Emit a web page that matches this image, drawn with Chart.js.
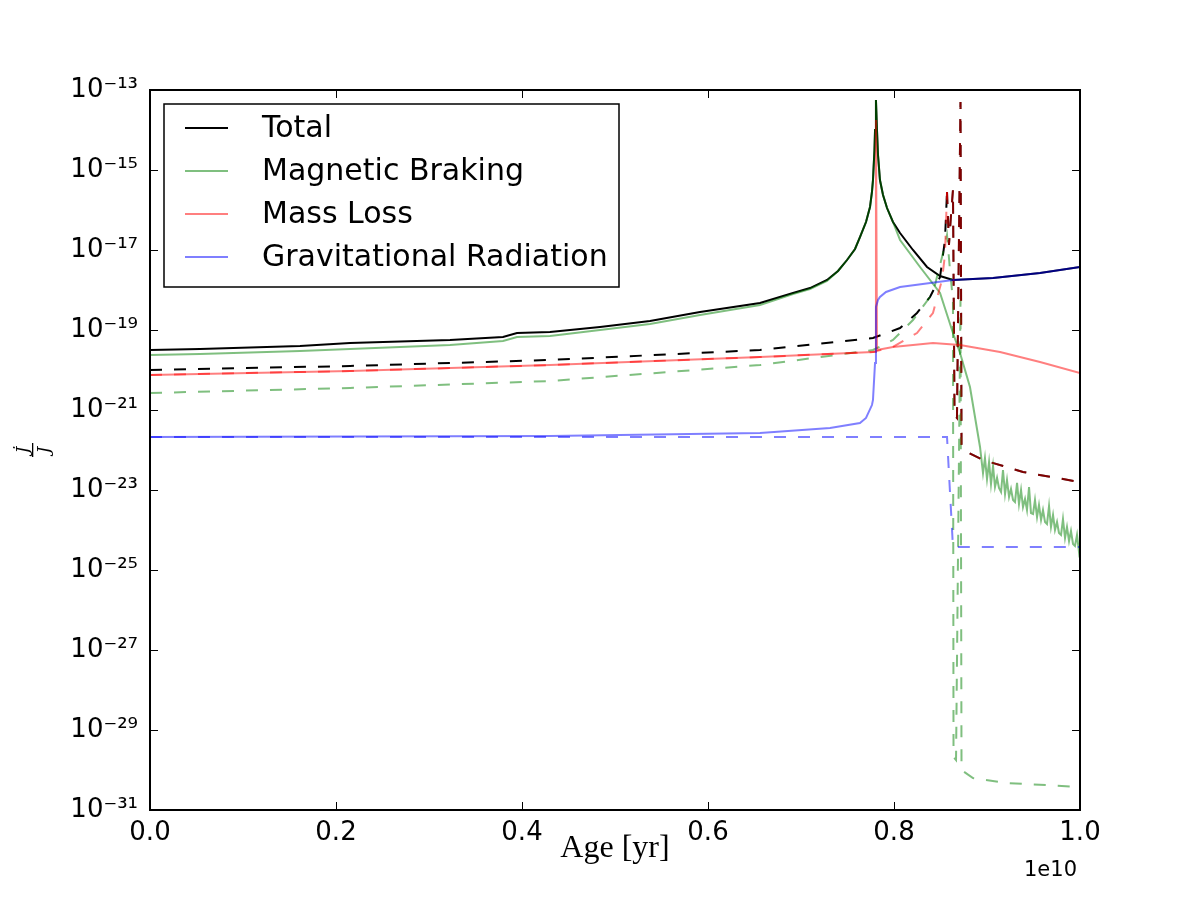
<!DOCTYPE html>
<html>
<head>
<meta charset="utf-8">
<script src="https://cdn.jsdelivr.net/npm/chart.js@4.4.0/dist/chart.umd.min.js"></script>
<style>
  html, body { margin: 0; padding: 0; background: #fff; }
</style>
</head>
<body>
<canvas id="jdotChart" width="1200" height="900"></canvas>
<script>
// ages are in Gyr (converted to yr when the datasets are built)
const totalAge = [0, 0.538, 1.613, 2.151, 3.226, 3.796, 3.946, 4.301, 4.839, 5.376, 5.914, 6.559, 6.914, 7.097, 7.280, 7.398, 7.495, 7.581, 7.634, 7.699,
  7.742, 7.763, 7.774, 7.790, 7.796, 7.806, 7.817, 7.828, 7.849, 7.882, 7.925, 7.989, 8.065, 8.204, 8.355, 8.495, 8.634, 9.065, 9.570, 10.0];
const totalVal = [3.16e-20, 3.35e-20, 3.98e-20, 4.73e-20, 5.62e-20, 6.68e-20, 8.41e-20, 8.91e-20, 1.19e-19, 1.68e-19, 2.82e-19, 4.73e-19, 8.41e-19, 1.12e-18, 1.78e-18, 2.99e-18, 5.62e-18, 1.06e-17, 2.11e-17, 5.01e-17,
  1.19e-16, 2.82e-16, 5.62e-16, 3.16e-15, 1.0e-14, 5.62e-14, 1.0e-14, 2.37e-15, 5.62e-16, 2.37e-16, 1.12e-16, 5.01e-17, 2.66e-17, 1.0e-17, 3.76e-18, 2.24e-18, 1.78e-18, 2.0e-18, 2.66e-18, 3.76e-18];

const mbAge = [0, 0.538, 1.613, 2.151, 3.226, 3.796, 3.946, 4.301, 4.839, 5.376, 5.914, 6.559, 6.914, 7.097, 7.280, 7.398, 7.495, 7.581, 7.634, 7.699,
  7.742, 7.763, 7.774, 7.790, 7.796, 7.806, 7.817, 7.828, 7.849, 7.882, 7.925, 7.989, 8.065, 8.280, 8.495, 8.634, 8.710, 8.817, 8.925, 8.957,
  8.978, 9.000, 9.022, 9.043, 9.065, 9.086, 9.108, 9.129, 9.151, 9.172, 9.194, 9.215, 9.237, 9.258, 9.280, 9.301, 9.323, 9.344, 9.366, 9.387,
  9.409, 9.430, 9.452, 9.473, 9.495, 9.516, 9.538, 9.559, 9.581, 9.602, 9.624, 9.645, 9.667, 9.688, 9.710, 9.731, 9.753, 9.774, 9.796, 9.817,
  9.839, 9.860, 9.882, 9.903, 9.925, 9.946, 9.968, 9.989, 10.0];
const mbVal = [2.37e-20, 2.51e-20, 2.99e-20, 3.35e-20, 4.22e-20, 5.31e-20, 6.68e-20, 7.08e-20, 1.0e-19, 1.41e-19, 2.37e-19, 4.22e-19, 7.94e-19, 1.06e-18, 1.68e-18, 2.99e-18, 5.62e-18, 1.06e-17, 2.11e-17, 5.01e-17,
  1.19e-16, 2.82e-16, 5.62e-16, 3.16e-15, 1.0e-14, 5.62e-14, 1.0e-14, 2.37e-15, 5.62e-16, 2.37e-16, 1.12e-16, 5.01e-17, 1.78e-17, 3.76e-18, 8.41e-19, 8.41e-20, 2.66e-20, 3.76e-21, 1.19e-22, 2.66e-23,
  6.31e-23, 1.88e-23, 5.01e-23, 1.41e-23, 3.98e-23, 1.19e-23, 2.0e-23, 1.12e-23, 8.91e-24, 3.16e-23, 7.94e-24, 1.78e-23, 6.68e-24, 1.06e-23, 5.62e-24, 5.01e-24, 1.5e-23, 4.47e-24, 1.0e-23, 3.76e-24,
  5.96e-24, 3.16e-24, 1.19e-23, 2.66e-24, 2.51e-24, 5.62e-24, 2.11e-24, 4.22e-24, 1.78e-24, 3.16e-24, 1.58e-24, 1.41e-24, 3.98e-24, 1.19e-24, 2.37e-24, 1.0e-24, 1.58e-24, 8.41e-25, 7.5e-25, 1.88e-24,
  6.31e-25, 1.19e-24, 5.31e-25, 9.44e-25, 4.47e-25, 3.98e-25, 7.5e-25, 2.82e-25, 3.76e-25];

const mlAge = [0, 2.151, 4.301, 6.559, 7.774, 7.796, 7.806, 7.817, 7.989, 8.419, 8.710, 9.140, 9.570, 10.0];
const mlVal = [7.5e-21, 9.44e-21, 1.33e-20, 2.11e-20, 2.82e-20, 2.82e-20, 1.78e-14, 3.16e-20, 3.76e-20, 4.73e-20, 4.22e-20, 2.82e-20, 1.58e-20, 8.41e-21];

const grAge = [0, 4.301, 6.559, 7.312, 7.634, 7.699, 7.763, 7.774, 7.796, 7.806, 7.828, 7.849, 7.914, 8.065, 8.634, 9.065, 9.570, 10.0];
const grVal = [2.11e-22, 2.24e-22, 2.66e-22, 3.55e-22, 4.73e-22, 6.31e-22, 1.33e-21, 1.78e-21, 1.5e-20, 3.76e-19, 5.62e-19, 6.68e-19, 8.91e-19, 1.19e-18, 1.78e-18, 2.0e-18, 2.66e-18, 3.76e-18];

// dashed runs; total and mass loss coincide after 8.57 Gyr, so those parts are kept apart
const totalDashAge = [0, 2.151, 4.301, 6.559, 7.774, 8.065, 8.247, 8.387, 8.495, 8.548, 8.570];
const totalDashVal = [1.0e-20, 1.26e-20, 1.78e-20, 3.16e-20, 6.31e-20, 1.12e-19, 2.66e-19, 6.68e-19, 2.11e-18, 1.78e-17, 2.82e-16];
const totalDashLateAge = [8.570, 8.591, 8.613, 8.634, 8.651, 8.677, 8.715, 8.726, 8.785, 8.957, 9.387, 10.0];
const totalDashLateVal = [2.82e-16, 1.33e-17, 7.5e-17, 3.16e-16, 7.5e-22, 6.31e-22, 5.01e-14, 1.33e-22, 8.91e-23, 5.62e-23, 2.82e-23, 1.58e-23];

const mlDashAge = [0, 2.151, 4.301, 6.559, 7.774, 7.989, 8.247, 8.419, 8.516, 8.548, 8.570];
const mlDashVal = [7.5e-21, 9.44e-21, 1.33e-20, 2.11e-20, 2.82e-20, 3.76e-20, 8.41e-20, 2.66e-19, 1.78e-18, 7.5e-18, 2.82e-16];
const mlDashLateAge = [8.570, 8.591, 8.613, 8.634, 8.651, 8.677, 8.715, 8.726, 8.785, 8.957, 9.387, 10.0];
const mlDashLateVal = [2.82e-16, 1.33e-17, 7.5e-17, 3.16e-16, 7.5e-22, 6.31e-22, 5.01e-14, 1.33e-22, 8.91e-23, 5.62e-23, 2.82e-23, 1.58e-23];

const mbDashAge = [0, 2.151, 4.301, 6.559, 7.774, 7.989, 8.204, 8.419, 8.527, 8.570, 8.602, 8.634, 8.640, 8.667, 8.715, 8.726, 8.849, 9.215, 10.0];
const mbDashVal = [2.66e-21, 3.55e-21, 5.31e-21, 1.33e-20, 3.16e-20, 5.62e-20, 1.78e-19, 8.41e-19, 8.41e-18, 2.37e-17, 3.16e-18, 5.62e-19, 2.11e-30, 1.78e-30, 5.62e-19, 1.0e-30, 6.31e-31, 4.73e-31, 3.76e-31];

const grDashAge = [0, 4.301, 8.570, 8.634, 10.0];
const grDashVal = [2.11e-22, 2.11e-22, 2.11e-22, 3.76e-25, 3.76e-25];

const xTickValues = [0, 2e9, 4e9, 6e9, 8e9, 1e10];
const xTickLabels = ['0.0', '0.2', '0.4', '0.6', '0.8', '1.0'];
const yTickValues = [1e-31, 1e-29, 1e-27, 1e-25, 1e-23, 1e-21, 1e-19, 1e-17, 1e-15, 1e-13];
const yTickLabels = ['10⁻³¹', '10⁻²⁹', '10⁻²⁷', '10⁻²⁵', '10⁻²³', '10⁻²¹', '10⁻¹⁹', '10⁻¹⁷', '10⁻¹⁵', '10⁻¹³'];

const pts = (ages, vals) => ages.map((a, i) => ({ x: a * 1e9, y: vals[i] }));

const BLACK = '#000000';
const GREEN = 'rgba(0,128,0,0.5)';
const RED = 'rgba(255,0,0,0.5)';
const BLUE = 'rgba(0,0,255,0.5)';
const DASH = [12, 12];

function line(label, data, color, order, dashed) {
  return {
    label: label,
    data: data,
    borderColor: color,
    backgroundColor: color,
    borderWidth: 2,
    borderDash: dashed ? DASH : [],
    pointRadius: 0,
    tension: 0,
    fill: false,
    order: order
  };
}

// ticks inside all four sides and the box round the axes
const framePlugin = {
  id: 'frame',
  afterDatasetsDraw(chart) {
    const { ctx, chartArea: a, scales } = chart;
    ctx.save();
    ctx.strokeStyle = '#000';
    ctx.lineWidth = 1;
    ctx.beginPath();
    scales.x.ticks.forEach(t => {
      const px = Math.round(scales.x.getPixelForValue(t.value)) + 0.5;
      ctx.moveTo(px, a.bottom); ctx.lineTo(px, a.bottom - 8);
      ctx.moveTo(px, a.top); ctx.lineTo(px, a.top + 8);
    });
    scales.y.ticks.forEach(t => {
      const py = Math.round(scales.y.getPixelForValue(t.value)) + 0.5;
      ctx.moveTo(a.left, py); ctx.lineTo(a.left + 8, py);
      ctx.moveTo(a.right, py); ctx.lineTo(a.right - 8, py);
    });
    ctx.stroke();
    ctx.lineWidth = 2;
    ctx.strokeRect(a.left, a.top, a.right - a.left, a.bottom - a.top);
    ctx.restore();
  }
};

const legendPlugin = {
  id: 'boxLegend',
  afterDatasetsDraw(chart) {
    const { ctx } = chart;
    const items = chart.data.datasets.filter(d => d.label);
    const x = 164, y = 104, w = 455, h = 183;
    ctx.save();
    ctx.fillStyle = '#fff';
    ctx.fillRect(x, y, w, h);
    ctx.strokeStyle = '#000';
    ctx.lineWidth = 1.5;
    ctx.strokeRect(x, y, w, h);
    ctx.font = '30px "DejaVu Sans"';
    ctx.textBaseline = 'middle';
    items.forEach((d, i) => {
      const ly = 128 + i * 43;
      ctx.strokeStyle = d.borderColor;
      ctx.lineWidth = 2;
      ctx.beginPath();
      ctx.moveTo(185, ly); ctx.lineTo(228, ly);
      ctx.stroke();
      ctx.fillStyle = '#000';
      ctx.fillText(d.label, 262, ly + 1);
    });
    ctx.restore();
  }
};

// y label as a fraction, plus the x offset text
const extrasPlugin = {
  id: 'extras',
  afterDraw(chart) {
    const { ctx, chartArea: a } = chart;
    ctx.save();
    ctx.fillStyle = '#000';
    ctx.font = '21px "DejaVu Sans"';
    ctx.textAlign = 'right';
    ctx.textBaseline = 'alphabetic';
    ctx.fillText('1e10', a.right - 3, 876);

    ctx.translate(33, (a.top + a.bottom) / 2);
    ctx.rotate(-Math.PI / 2);
    ctx.font = 'italic 17px "DejaVu Serif"';
    ctx.textAlign = 'center';
    ctx.textBaseline = 'alphabetic';
    ctx.fillText('J\u0307', 0, -5);
    ctx.fillRect(-7, -1, 14, 1.3);
    ctx.textBaseline = 'top';
    ctx.fillText('J', 0, 3);
    ctx.restore();
  }
};

new Chart(document.getElementById('jdotChart'), {
  type: 'line',
  data: {
    datasets: [
      line('Total', pts(totalAge, totalVal), BLACK, 10, false),
      line('Magnetic Braking', pts(mbAge, mbVal), GREEN, 7, false),
      line('Mass Loss', pts(mlAge, mlVal), RED, 4, false),
      line('Gravitational Radiation', pts(grAge, grVal), BLUE, 2, false),
      line('', pts(totalDashAge, totalDashVal), BLACK, 9, true),
      line('', pts(totalDashLateAge, totalDashLateVal), BLACK, 8, true),
      line('', pts(mbDashAge, mbDashVal), GREEN, 6, true),
      line('', pts(mlDashAge, mlDashVal), RED, 5, true),
      line('', pts(mlDashLateAge, mlDashLateVal), RED, 3, true),
      line('', pts(grDashAge, grDashVal), BLUE, 1, true)
    ]
  },
  options: {
    responsive: false,
    animation: false,
    devicePixelRatio: 1,
    layout: { padding: { top: 90, right: 120, left: 0, bottom: 0 } },
    plugins: { legend: { display: false }, tooltip: { enabled: false } },
    scales: {
      x: {
        type: 'linear',
        min: 0,
        max: 1e10,
        afterBuildTicks: s => { s.ticks = xTickValues.map(v => ({ value: v })); },
        afterFit: s => { s.height = 90; },
        grid: { display: false, drawTicks: false },
        border: { display: false },
        ticks: {
          autoSkip: false,
          maxRotation: 0,
          padding: 8,
          color: '#000',
          font: { family: 'DejaVu Sans', size: 26 },
          callback: (v, i) => xTickLabels[i]
        },
        title: {
          display: true,
          text: 'Age [yr]',
          color: '#000',
          font: { family: 'Liberation Serif', size: 32 },
          padding: { top: 0, bottom: 32 }
        }
      },
      y: {
        type: 'logarithmic',
        min: 1e-31,
        max: 1e-13,
        afterBuildTicks: s => { s.ticks = yTickValues.map(v => ({ value: v })); },
        afterFit: s => { s.width = 150; },
        grid: { display: false, drawTicks: false },
        border: { display: false },
        ticks: {
          autoSkip: false,
          padding: 12,
          color: '#000',
          font: { family: 'DejaVu Sans', size: 26 },
          callback: (v, i) => yTickLabels[i]
        }
      }
    }
  },
  plugins: [framePlugin, legendPlugin, extrasPlugin]
});
</script>
</body>
</html>
